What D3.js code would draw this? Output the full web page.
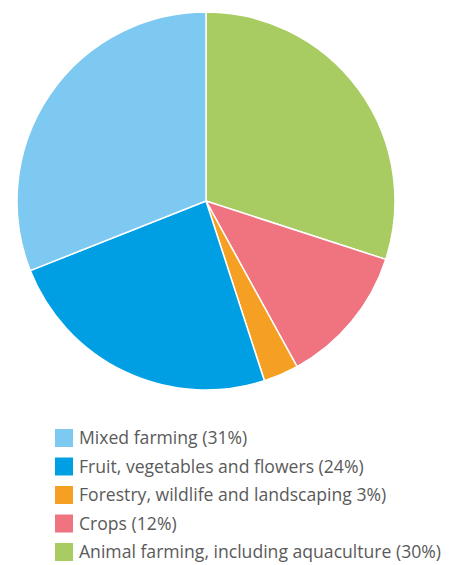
<!DOCTYPE html>
<html>
<head>
<meta charset="utf-8">
<script src="https://cdn.jsdelivr.net/npm/d3@7"></script>
<style>
  body { margin: 0; background: #fff; }
  .legend-text { font-family: "Open Sans", sans-serif; font-size: 17.6px; fill: #5a5a5a; }
</style>
</head>
<body>
<svg id="chart" width="450" height="565"></svg>
<script>
// slices, clockwise from 12 o'clock
const categories = [
  "Animal farming, including aquaculture",
  "Crops",
  "Forestry, wildlife and landscaping",
  "Fruit, vegetables and flowers",
  "Mixed farming"
];
const values = [30, 12, 3, 24, 31];
const colors = ["#a8cb62", "#ef7480", "#f5a023", "#009fe3", "#7dc9f1"];

// legend order and labels as in the picture
const legendOrder = [4, 3, 2, 1, 0];
const legendLabels = [
  "Animal farming, including aquaculture (30%)",
  "Crops (12%)",
  "Forestry, wildlife and landscaping 3%)",
  "Fruit, vegetables and flowers (24%)",
  "Mixed farming (31%)"
];

const svg = d3.select("#chart");
const cx = 206, cy = 201, radius = 189;

const pie = d3.pie().sort(null).value(d => d);
const arc = d3.arc().innerRadius(0).outerRadius(radius);

svg.append("g")
  .attr("transform", `translate(${cx},${cy})`)
  .selectAll("path")
  .data(pie(values))
  .enter()
  .append("path")
  .attr("d", arc)
  .style("fill", (d, i) => colors[i])
  .style("stroke", "#fff")
  .style("stroke-width", 1.5);

// legend
const legend = svg.append("g").attr("transform", "translate(55,429)");
const rows = legend.selectAll("g")
  .data(legendOrder)
  .enter()
  .append("g")
  .attr("transform", (d, i) => `translate(0,${i * 28.5})`);

rows.append("rect")
  .attr("width", 18)
  .attr("height", 18)
  .style("fill", d => colors[d]);

rows.append("text")
  .attr("class", "legend-text")
  .attr("x", 24)
  .attr("y", 15)
  .text(d => legendLabels[d]);
</script>
</body>
</html>
